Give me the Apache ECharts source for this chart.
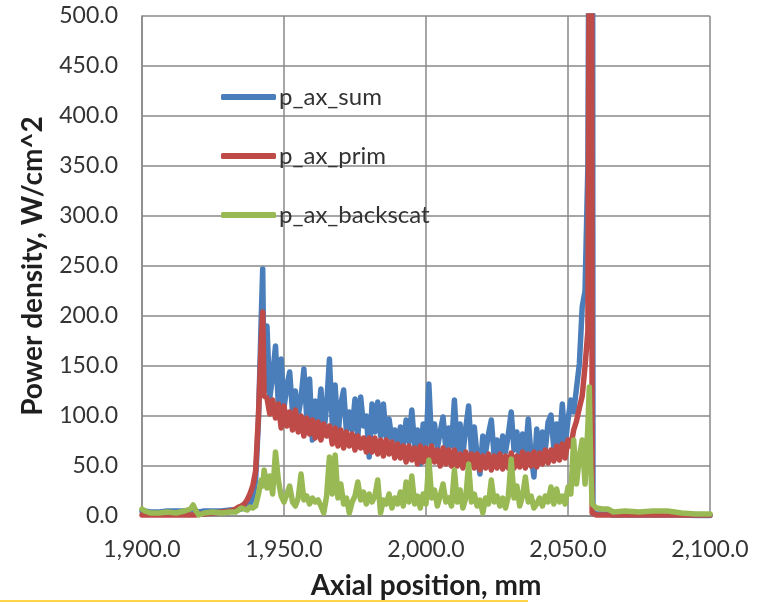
<!DOCTYPE html>
<html>
<head>
<meta charset="utf-8">
<script src="https://cdn.jsdelivr.net/npm/echarts@6/dist/echarts.min.js"></script>
<style>
  html, body { margin: 0; padding: 0; background: #ffffff; }
  #chart { width: 769px; height: 605px; }
</style>
</head>
<body>
<div id="chart"></div>
<script>
// Axial positions (mm) shared by all three profiles
const axialPos = [
  1900, 1901, 1903, 1906, 1909, 1912, 1915, 1917, 1918, 1919, 1920, 1922, 1925, 1928, 1931, 1933, 1934, 1935,
  1936, 1937, 1938, 1939, 1940, 1941, 1942, 1942.5,
  1943, 1944, 1945, 1946, 1947, 1948, 1949,
  1950, 1951, 1952, 1953, 1954, 1955, 1956, 1957, 1958, 1959,
  1960, 1961, 1962, 1963, 1964, 1965, 1966, 1967, 1968, 1969,
  1970, 1971, 1972, 1973, 1974, 1975, 1976, 1977, 1978, 1979,
  1980, 1981, 1982, 1983, 1984, 1985, 1986, 1987, 1988, 1989,
  1990, 1991, 1992, 1993, 1994, 1995, 1996, 1997, 1998, 1999,
  2000, 2001, 2002, 2003, 2004, 2005, 2006, 2007, 2008, 2009,
  2010, 2011, 2012, 2013, 2014, 2015, 2016, 2017, 2018, 2019,
  2020, 2021, 2022, 2023, 2024, 2025, 2026, 2027, 2028, 2029,
  2030, 2031, 2032, 2033, 2034, 2035, 2036, 2037, 2038, 2039,
  2040, 2041, 2042, 2043, 2044, 2045, 2046, 2047, 2048, 2049,
  2050, 2051, 2052, 2053, 2054, 2055, 2056, 2057,
  2057.5, 2058, 2058.5, 2058.8,
  2060, 2062, 2064, 2066, 2070, 2075, 2080, 2085, 2090, 2095, 2100
];

// p_ax_sum, W/cm^2
const pAxSum = [
  5, 5, 4, 4, 5, 5, 5, 6, 6, 5, 4, 5, 5, 5, 6, 6, 7, 7,
  8, 9, 12, 18, 36, 95, 200, 247,
  125, 190, 118, 140, 170, 112, 157,
  108, 130, 144, 104, 125, 100, 118, 147, 98, 137,
  76, 115, 96, 127, 82, 110, 157, 92, 131, 80,
  112, 126, 84, 104, 86, 117, 80, 119, 90, 100,
  59, 112, 84, 114, 80, 112, 78, 97, 76, 86,
  72, 89, 70, 96, 74, 106, 70, 86, 52, 92,
  70, 132, 72, 92, 68, 84, 99, 66, 88, 70,
  116, 66, 92, 62, 88, 110, 64, 89, 60, 42,
  80, 64, 82, 96, 60, 76, 58, 80, 64, 82,
  104, 66, 84, 56, 82, 62, 97, 60, 39, 87,
  62, 84, 66, 94, 101, 68, 92, 72, 112, 70,
  96, 116, 104, 128, 152, 209, 225, 350,
  700, 2000, 1500, 3,
  2, 2, 2, 1, 1, 1, 1, 1, 1, 0.5, 0.5
];

// p_ax_prim, W/cm^2
const pAxPrim = [
  1, 1, 1, 1, 1, 1, 1, 1, 1, 1, 2, 2, 3, 4, 5, 7, 9, 10,
  12, 16, 22, 30, 45, 100, 175, 204,
  120, 118, 102, 116, 98, 112, 88,
  110, 90, 104, 86, 106, 84, 100, 80, 98, 82,
  96, 78, 94, 76, 92, 80, 90, 72, 88, 70,
  86, 68, 84, 70, 82, 66, 80, 68, 78, 64,
  78, 64, 78, 62, 76, 60, 76, 62, 74, 58,
  72, 58, 70, 54, 70, 56, 68, 52, 70, 54,
  68, 52, 70, 54, 66, 50, 68, 52, 66, 50,
  66, 50, 62, 48, 64, 50, 62, 48, 62, 46,
  60, 48, 62, 46, 60, 48, 62, 47, 60, 48,
  63, 48, 60, 49, 64, 48, 62, 50, 64, 49,
  63, 52, 66, 53, 66, 55, 70, 56, 72, 58,
  76, 70, 86, 95, 108, 120, 150, 185,
  600, 2000, 3, 2,
  1, 1, 1, 1, 1, 1, 1, 1, 1, 1, 1
];

// p_ax_backscat, W/cm^2
const pAxBackscat = [
  7, 5, 3, 3, 4, 3, 5, 7, 11, 5, 1, 3, 4, 3, 4, 4, 6, 8,
  7, 6, 9, 8, 10, 22, 36, 30,
  46, 28, 40, 22, 64, 36, 20,
  14, 22, 30, 14, 10, 18, 42, 16, 20, 12,
  18, 14, 16, 10, 3, 20, 59, 22, 61, 18,
  32, 12, 18, 3, 14, 20, 34, 16, 24, 12,
  22, 14, 20, 36, 3, 16, 12, 22, 8, 18,
  12, 24, 10, 34, 14, 40, 12, 20, 8, 22,
  12, 56, 18, 26, 10, 20, 32, 14, 18, 10,
  46, 14, 26, 8, 18, 52, 14, 22, 10, 16,
  3, 18, 12, 36, 14, 20, 10, 18, 8, 20,
  57, 18, 30, 10, 20, 39, 14, 20, 8, 12,
  18, 10, 20, 14, 29, 12, 27, 14, 20, 12,
  29, 22, 76, 32, 59, 76, 32, 90,
  129, 50, 12, 10,
  8, 7, 7, 4, 5, 4, 5, 5, 3, 2, 2
];

const seriesNames = ['p_ax_sum', 'p_ax_prim', 'p_ax_backscat'];
const seriesColors = ['#4A7EBB', '#BE4B48', '#98B954'];
const seriesValues = [pAxSum, pAxPrim, pAxBackscat];

const FONT = 'Lato, "Open Sans", sans-serif';
const GRID_COLOR = '#888888';

function withThousands(v) {
  const fixed = Math.abs(v).toFixed(1);
  const parts = fixed.split('.');
  parts[0] = parts[0].replace(/\B(?=(\d{3})+(?!\d))/g, ',');
  return (v < 0 ? '-' : '') + parts.join('.');
}

const chart = echarts.init(document.getElementById('chart'), null, { renderer: 'canvas' });

chart.setOption({
  animation: false,
  backgroundColor: '#ffffff',
  grid: { left: 142, top: 16, width: 568, height: 500, containLabel: false },
  legend: {
    data: seriesNames,
    orient: 'vertical',
    left: 221,
    top: 85,
    padding: 0,
    icon: 'roundRect',
    itemWidth: 55,
    itemHeight: 6,
    itemGap: 35,
    textStyle: { fontFamily: FONT, fontSize: 24, color: '#333333', padding: [0, 0, 0, -2] }
  },
  xAxis: {
    type: 'value',
    min: 1900,
    max: 2100,
    interval: 50,
    name: 'Axial position, mm',
    nameLocation: 'middle',
    nameGap: 56,
    nameTextStyle: { fontFamily: FONT, fontSize: 28, fontWeight: 'bold', color: '#1f1f1f' },
    axisLine: { show: true, lineStyle: { color: GRID_COLOR, width: 1.5 } },
    axisTick: { show: false },
    axisLabel: { fontFamily: FONT, fontSize: 23, color: '#333333', margin: 22, formatter: withThousands },
    splitLine: { show: true, lineStyle: { color: GRID_COLOR, width: 1.5 } }
  },
  yAxis: {
    type: 'value',
    min: 0,
    max: 500,
    interval: 50,
    name: 'Power density, W/cm^2',
    nameLocation: 'middle',
    nameGap: 95,
    nameTextStyle: { fontFamily: FONT, fontSize: 28, fontWeight: 'bold', color: '#1f1f1f' },
    axisLine: { show: true, lineStyle: { color: GRID_COLOR, width: 1.5 } },
    axisTick: { show: false },
    axisLabel: { fontFamily: FONT, fontSize: 23, color: '#333333', margin: 24, formatter: v => v.toFixed(1) },
    splitLine: { show: true, lineStyle: { color: GRID_COLOR, width: 1.5 } }
  },
  graphic: [{
    type: 'line',
    shape: { x1: 0, y1: 601, x2: 528, y2: 601 },
    style: { stroke: '#FFD447', lineWidth: 2 },
    silent: true
  }],
  series: seriesNames.map((name, k) => ({
    name: name,
    type: 'line',
    data: axialPos.map((x, i) => [x, seriesValues[k][i]]),
    showSymbol: false,
    symbol: 'none',
    clip: true,
    color: seriesColors[k],
    lineStyle: { color: seriesColors[k], width: 5.5, join: 'round', cap: 'round' },
    emphasis: { disabled: true }
  }))
});
</script>
</body>
</html>
